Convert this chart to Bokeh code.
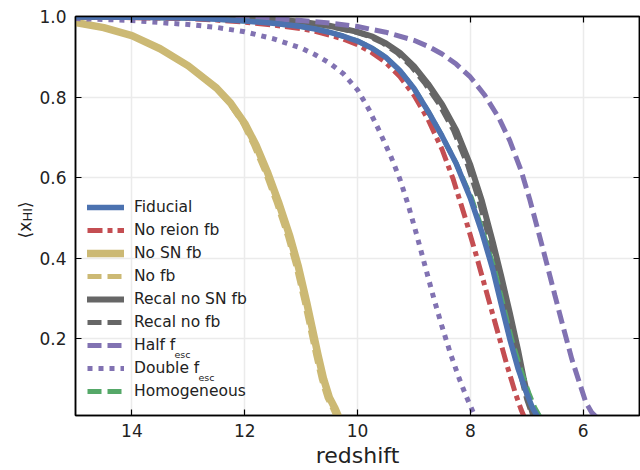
from math import pi
from bokeh.plotting import figure
from bokeh.models import (Range1d, FixedTicker, LinearAxis, Legend, LegendItem, Label,
                          PrintfTickFormatter)
from bokeh.embed import file_html
from bokeh.resources import INLINE

# ---------------- data ----------------
x_ticks = [14, 12, 10, 8, 6]
y_ticks = [0.2, 0.4, 0.6, 0.8, 1.0]

fid_z = [15.0, 14.0, 13.0, 12.5, 12.0, 11.5, 11.0, 10.75, 10.5, 10.25, 10.0, 9.75, 9.5, 9.25, 9.0,
         8.75, 8.5, 8.25, 8.0, 7.8, 7.6, 7.45, 7.3, 7.15, 7.0, 6.9, 6.8]
fid_x = [0.999, 0.998, 0.996, 0.993, 0.989, 0.983, 0.975, 0.969, 0.961, 0.951, 0.939, 0.922, 0.899,
         0.866, 0.822, 0.765, 0.703, 0.635, 0.550, 0.467, 0.372, 0.285, 0.200, 0.125, 0.065, 0.030, 0.005]

homog_z = [15.0, 14.0, 13.0, 12.5, 12.0, 11.5, 11.0, 10.75, 10.5, 10.25, 10.0, 9.75, 9.5, 9.25, 9.0,
           8.75, 8.5, 8.25, 7.98, 7.78, 7.57, 7.42, 7.27, 7.11, 6.96, 6.86, 6.76]
homog_x = [0.999, 0.998, 0.996, 0.993, 0.989, 0.983, 0.975, 0.969, 0.961, 0.951, 0.939, 0.922, 0.899,
           0.866, 0.822, 0.765, 0.703, 0.635, 0.550, 0.467, 0.372, 0.285, 0.200, 0.125, 0.065, 0.030, 0.005]

noreion_z = [15.0, 14.0, 13.0, 12.5, 12.0, 11.5, 11.0, 10.75, 10.5, 10.25, 10.0, 9.75, 9.5, 9.25, 9.0,
             8.75, 8.5, 8.3, 8.1, 7.9, 7.7, 7.5, 7.35, 7.2, 7.1, 7.05]
noreion_x = [0.999, 0.997, 0.995, 0.991, 0.986, 0.979, 0.970, 0.963, 0.954, 0.944, 0.930, 0.911, 0.886,
             0.851, 0.805, 0.745, 0.670, 0.595, 0.505, 0.410, 0.310, 0.210, 0.135, 0.065, 0.025, 0.008]

nosn_z = [15.0, 14.5, 14.0, 13.5, 13.0, 12.5, 12.25, 12.0, 11.8, 11.6, 11.4, 11.2, 11.05, 10.9,
          10.8, 10.7, 10.6, 10.5, 10.4, 10.33]
nosn_x = [0.985, 0.9725, 0.9525, 0.920, 0.8775, 0.8225, 0.785, 0.735, 0.681, 0.615, 0.539, 0.455,
          0.380, 0.290, 0.225, 0.160, 0.100, 0.055, 0.028, 0.005]

nofb_z = [15.0, 14.5, 14.0, 13.5, 13.0, 12.5, 12.27, 12.03, 11.84, 11.64, 11.44, 11.24, 11.09, 10.94,
          10.84, 10.74, 10.64, 10.54, 10.44, 10.37]
nofb_x = [0.984, 0.9715, 0.9515, 0.919, 0.8765, 0.8215, 0.784, 0.734, 0.680, 0.614, 0.538, 0.454,
          0.379, 0.289, 0.224, 0.159, 0.099, 0.054, 0.027, 0.005]

recal_sn_z = [15.0, 14.0, 13.0, 12.0, 11.5, 11.0, 10.5, 10.0, 9.75, 9.5, 9.25, 9.0, 8.75, 8.5, 8.25,
              8.0, 7.8, 7.6, 7.45, 7.3, 7.15, 7.05, 6.97, 6.9, 6.87]
recal_sn_x = [0.999, 0.999, 0.998, 0.995, 0.993, 0.987, 0.977, 0.962, 0.951, 0.934, 0.910, 0.877, 0.833,
              0.782, 0.718, 0.632, 0.545, 0.440, 0.355, 0.265, 0.170, 0.100, 0.050, 0.018, 0.005]

recal_fb_z = [15.0, 14.0, 13.0, 12.0, 11.5, 11.0, 10.55, 10.05, 9.8, 9.55, 9.3, 9.05, 8.8, 8.55, 8.3,
              8.05, 7.85, 7.65, 7.5, 7.35, 7.2, 7.09, 7.0, 6.92, 6.89]
recal_fb_x = [0.999, 0.999, 0.998, 0.995, 0.993, 0.987, 0.977, 0.962, 0.951, 0.934, 0.910, 0.877, 0.833,
              0.782, 0.718, 0.632, 0.545, 0.440, 0.355, 0.265, 0.170, 0.100, 0.050, 0.018, 0.005]

half_z = [15.0, 13.0, 12.0, 11.5, 11.0, 10.5, 10.0, 9.5, 9.0, 8.75, 8.5, 8.25, 8.0, 7.75, 7.5, 7.3,
          7.1, 6.95, 6.8, 6.65, 6.5, 6.35, 6.2, 6.05, 5.95, 5.85, 5.75]
half_x = [0.9995, 0.998, 0.996, 0.994, 0.990, 0.984, 0.975, 0.961, 0.941, 0.926, 0.907, 0.882, 0.850,
          0.806, 0.750, 0.692, 0.618, 0.548, 0.470, 0.390, 0.308, 0.228, 0.150, 0.085, 0.042, 0.018, 0.004]

double_z = [15.0, 14.0, 13.0, 12.5, 12.0, 11.5, 11.0, 10.75, 10.5, 10.25, 10.0, 9.8, 9.6, 9.4, 9.25,
            9.1, 8.95, 8.8, 8.65, 8.5, 8.35, 8.2, 8.08, 7.98, 7.91]
double_x = [0.995, 0.990, 0.980, 0.973, 0.962, 0.945, 0.922, 0.905, 0.885, 0.858, 0.818, 0.770, 0.712,
            0.650, 0.597, 0.532, 0.458, 0.380, 0.302, 0.230, 0.163, 0.103, 0.060, 0.028, 0.005]

labels = ["Fiducial", "No reion fb", "No SN fb", "No fb", "Recal no SN fb",
          "Recal no fb", "Half f", "Double f", "Homogeneous"]
subscript = "esc"
ylabel_main = "\u27e8x\u2002 \u27e9"   # gap left for the subscript
ylabel_sub = "HI"
xlabel = "redshift"

BLUE, RED, YELLOW, PURPLE, GREEN, GREY = "#4C72B0", "#C44E52", "#CCB974", "#8172B2", "#55A868", "#666666"
FONT = "DejaVu Sans"
TXT = "#222222"

p = figure(width=640, height=470, output_backend="svg", toolbar_location=None,
           x_range=Range1d(15, 5), y_range=Range1d(0.01, 1.0),
           min_border_left=75, min_border_right=1, min_border_top=16, min_border_bottom=55)
p.background_fill_color = "white"
p.border_fill_color = "white"
p.outline_line_color = "black"
p.outline_line_width = 1.5

p.xaxis.ticker = FixedTicker(ticks=x_ticks)
p.yaxis.ticker = FixedTicker(ticks=y_ticks)
p.yaxis.formatter = PrintfTickFormatter(format="%.1f")


def style_axis(ax):
    ax.major_tick_in = 6
    ax.major_tick_out = 0
    ax.minor_tick_line_color = None
    ax.major_tick_line_color = "black"
    ax.major_tick_line_width = 1.2
    ax.axis_line_color = "black"
    ax.axis_line_width = 1.5
    ax.major_label_text_font = FONT
    ax.major_label_text_font_size = "17px"
    ax.major_label_text_color = TXT


style_axis(p.xaxis[0])
style_axis(p.yaxis[0])
p.xaxis.major_label_standoff = 8
p.yaxis.major_label_standoff = 9
p.xaxis.axis_label = xlabel
p.xaxis.axis_label_text_font = FONT
p.xaxis.axis_label_text_font_size = "22px"
p.xaxis.axis_label_text_font_style = "normal"
p.xaxis.axis_label_text_color = TXT
p.xaxis.axis_label_standoff = 3

# mirrored tick marks on top and right (no labels)
right = LinearAxis(ticker=FixedTicker(ticks=y_ticks))
top = LinearAxis(ticker=FixedTicker(ticks=x_ticks))
for ax in (right, top):
    style_axis(ax)
    ax.major_label_text_font_size = "1px"
    ax.major_label_text_color = None
    ax.major_label_standoff = 0
p.add_layout(right, "right")
p.add_layout(top, "above")

p.xgrid.ticker = FixedTicker(ticks=x_ticks)
p.ygrid.ticker = FixedTicker(ticks=y_ticks)
p.grid.grid_line_color = "#ebebeb"
p.grid.grid_line_width = 1.5

# ---------------- curves ----------------
r_nosn = p.line(nosn_z, nosn_x, line_color=YELLOW, line_width=7.5, line_cap="round", line_join="round")
r_nofb = p.line(nofb_z, nofb_x, line_color=YELLOW, line_width=5, line_dash="14 6")
r_recal_sn = p.line(recal_sn_z, recal_sn_x, line_color=GREY, line_width=6, line_cap="round", line_join="round")
r_recal_fb = p.line(recal_fb_z, recal_fb_x, line_color=GREY, line_width=5, line_dash="14 6")
r_half = p.line(half_z, half_x, line_color=PURPLE, line_width=5, line_dash="14 6")
r_double = p.line(double_z, double_x, line_color=PURPLE, line_width=5, line_dash="5 6")
r_homog = p.line(homog_z, homog_x, line_color=GREEN, line_width=5, line_dash="14 6")
r_noreion = p.line(noreion_z, noreion_x, line_color=RED, line_width=5, line_dash="15 5 5 5")
r_fid = p.line(fid_z, fid_x, line_color=BLUE, line_width=5.5, line_cap="round", line_join="round")

renderers = [r_fid, r_noreion, r_nosn, r_nofb, r_recal_sn, r_recal_fb, r_half, r_double, r_homog]
legend = Legend(items=[LegendItem(label=l, renderers=[r]) for l, r in zip(labels, renderers)],
                location=(7, 9), padding=5, margin=0, spacing=3,
                glyph_width=37, glyph_height=20, label_height=20, label_standoff=10,
                label_text_font=FONT, label_text_font_size="15.5px", label_text_color=TXT,
                background_fill_alpha=0, border_line_alpha=0)
p.add_layout(legend)

# subscripts "esc" for the f_esc legend entries
for sx, sy in ((99, 61), (123, 38)):
    p.add_layout(Label(x=sx, y=sy, x_units="screen", y_units="screen", text=subscript,
                       text_font=FONT, text_font_size="9.5px", text_color=TXT,
                       text_baseline="alphabetic", text_align="left"))

# rotated y-axis label <x_HI> (canvas pixels, placed in border panels so it is not clipped)
p.add_layout(Label(x=24, y=238, x_units="canvas", y_units="canvas", text=ylabel_main, angle=pi / 2,
                   text_font=FONT, text_font_size="17px", text_color=TXT,
                   text_baseline="alphabetic", text_align="left"), "left")
p.add_layout(Label(x=27, y=221, x_units="canvas", y_units="canvas", text=ylabel_sub, angle=pi / 2,
                   text_font=FONT, text_font_size="13px", text_color=TXT,
                   text_baseline="alphabetic", text_align="left"), "above")

open("out.html", "w").write(file_html(p, INLINE))
